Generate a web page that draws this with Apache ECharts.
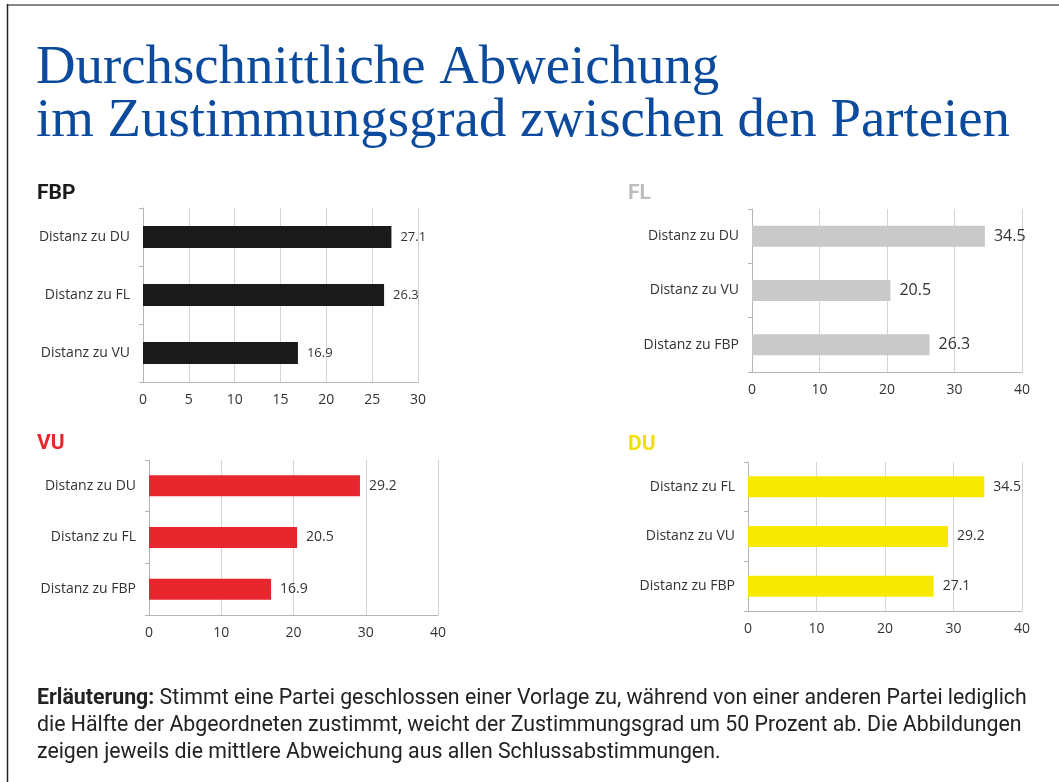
<!DOCTYPE html>
<html>
<head>
<meta charset="utf-8">
<script src="https://cdn.jsdelivr.net/npm/echarts@6/dist/echarts.min.js"></script>
<style>
  html, body { margin: 0; padding: 0; background: #fff; }
  #chart { width: 1059px; height: 782px; }
</style>
</head>
<body>
<div id="chart"></div>
<script>
// data per panel
const fbpCats = ['Distanz zu DU', 'Distanz zu FL', 'Distanz zu VU'];
const fbpVals = [27.1, 26.3, 16.9];
const flCats = ['Distanz zu DU', 'Distanz zu VU', 'Distanz zu FBP'];
const flVals = [34.5, 20.5, 26.3];
const vuCats = ['Distanz zu DU', 'Distanz zu FL', 'Distanz zu FBP'];
const vuVals = [29.2, 20.5, 16.9];
const duCats = ['Distanz zu FL', 'Distanz zu VU', 'Distanz zu FBP'];
const duVals = [34.5, 29.2, 27.1];

const panelNames = ['FBP', 'FL', 'VU', 'DU'];
const panelColors = ['#1a1a1a', '#c9c9c9', '#e8262d', '#f7e900'];
const titleColors = ['#1a1a1a', '#bdbdbd', '#e8262d', '#f3df00'];

const labelFont = '"Open Sans", "Liberation Sans", sans-serif';

const grids = [
  { left: 143, top: 208, width: 275, height: 174 },
  { left: 752, top: 209, width: 270, height: 163 },
  { left: 149, top: 460, width: 289, height: 155 },
  { left: 748, top: 462, width: 274, height: 149 }
];
const axisMax = [30, 40, 40, 40];
const axisStep = [5, 10, 10, 10];
const cats = [fbpCats, flCats, vuCats, duCats];
const vals = [fbpVals, flVals, vuVals, duVals];
const valueFont = [13, 16, 14, 14];
const barW = [22, 21, 21, 21];
const titlePos = [[32, 178], [623, 178], [32, 428], [623, 429]];

const chart = echarts.init(document.getElementById('chart'));

const option = {
  backgroundColor: '#fff',
  animation: false,
  title: [
    {
      text: 'Durchschnittliche Abweichung\nim Zustimmungsgrad zwischen den Parteien',
      left: 31, top: 37,
      textStyle: {
        fontFamily: '"Liberation Serif", "DejaVu Serif", serif',
        fontSize: 54.8, fontWeight: 'normal', color: '#0b4a9c', lineHeight: 53
      }
    },
    ...panelNames.map((n, i) => ({
      text: n, left: titlePos[i][0], top: titlePos[i][1],
      textStyle: { fontFamily: 'Roboto, sans-serif', fontSize: 21, fontWeight: 'bold', color: titleColors[i] }
    }))
  ],
  grid: grids.map(g => Object.assign({ containLabel: false }, g)),
  xAxis: grids.map((g, i) => ({
    type: 'value', gridIndex: i, min: 0, max: axisMax[i], interval: axisStep[i],
    axisLine: { show: true, lineStyle: { color: '#b5b5b5', width: 1 } },
    axisTick: { show: false },
    splitLine: { show: true, lineStyle: { color: '#d4d4d4', width: 1 } },
    axisLabel: { color: '#333', fontSize: 14, fontFamily: labelFont, margin: 11 }
  })),
  yAxis: grids.map((g, i) => ({
    type: 'category', gridIndex: i, data: cats[i], inverse: true,
    axisLine: { show: true, lineStyle: { color: '#b5b5b5', width: 1 } },
    axisTick: { show: true, length: 4, lineStyle: { color: '#b5b5b5' } },
    axisLabel: { color: '#333', fontSize: 14, fontFamily: labelFont, margin: 13 }
  })),
  series: vals.map((v, i) => ({
    type: 'bar', xAxisIndex: i, yAxisIndex: i, data: v,
    barWidth: barW[i],
    itemStyle: { color: panelColors[i] },
    label: {
      show: true, position: 'right', distance: 9,
      color: '#333', fontSize: valueFont[i], fontFamily: labelFont
    }
  })),
  graphic: [
    { type: 'line', shape: { x1: 7, y1: 5, x2: 1059, y2: 5 }, style: { stroke: '#888', lineWidth: 2 } },
    { type: 'line', shape: { x1: 7.5, y1: 4, x2: 7.5, y2: 782 }, style: { stroke: '#222', lineWidth: 1.5 } },
    {
      type: 'text', left: 37, top: 685,
      style: {
        text: '{b|Erläuterung:} Stimmt eine Partei geschlossen einer Vorlage zu, während von einer anderen Partei lediglich\n' +
          'die Hälfte der Abgeordneten zustimmt, weicht der Zustimmungsgrad um 50 Prozent ab. Die Abbildungen\n' +
          'zeigen jeweils die mittlere Abweichung aus allen Schlussabstimmungen.',
        fontFamily: 'Roboto, sans-serif', fontSize: 21.3, fill: '#222', lineHeight: 27,
        rich: { b: { fontWeight: 'bold', fontFamily: 'Roboto, sans-serif', fontSize: 21.3, fill: '#222' } }
      }
    }
  ]
};

chart.setOption(option);
</script>
</body>
</html>
